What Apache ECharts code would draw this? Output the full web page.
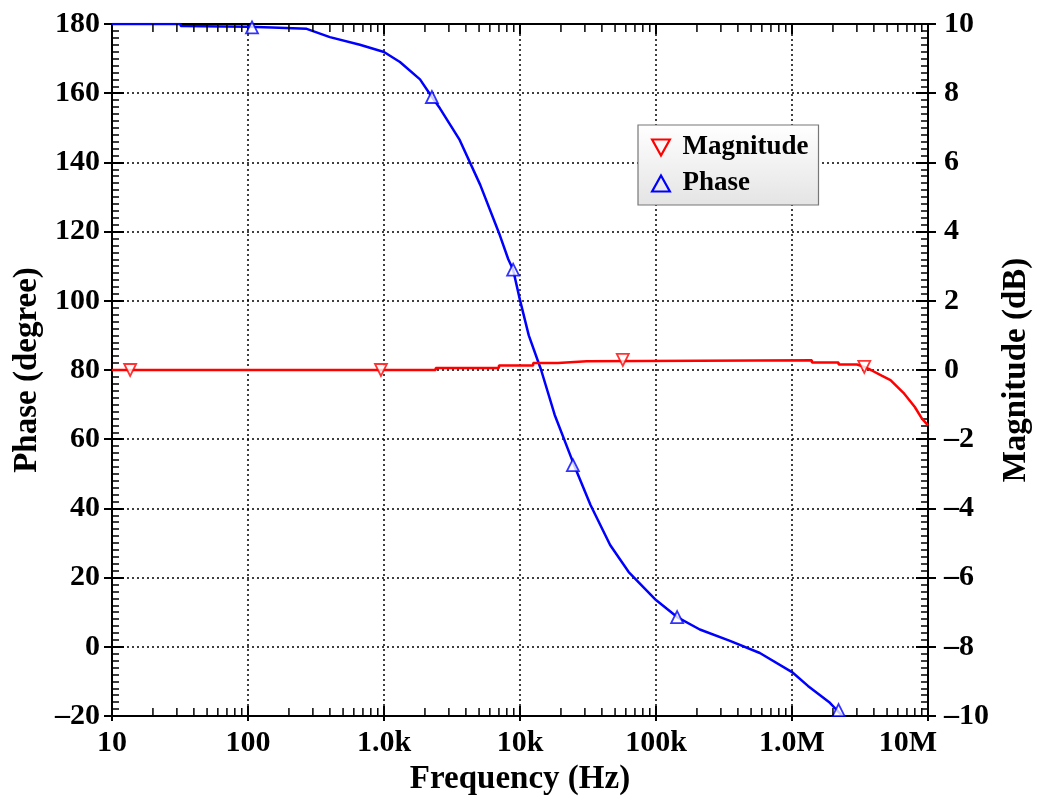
<!DOCTYPE html>
<html>
<head>
<meta charset="utf-8">
<script src="https://cdn.jsdelivr.net/npm/echarts@6/dist/echarts.min.js"></script>
<style>
html,body{margin:0;padding:0;background:#fff;}
#chart{width:1042px;height:804px;}
</style>
</head>
<body>
<div id="chart"></div>
<script>
// ---- data ----
const freqTickLabels = {10:'10',100:'100',1000:'1.0k',10000:'10k',100000:'100k',1000000:'1.0M',10000000:'10M'};

const phaseFreq = [10, 32, 32, 100, 150, 150, 270, 270, 400, 665, 1000, 1310, 1840, 2250, 2570, 3600, 5100, 7100, 8200, 8900, 10000, 11600, 14300, 18000, 25000, 33000, 46000, 63000, 100000, 143000, 210000, 350000, 580000, 1000000, 1310000, 1900000, 2350000];
const phaseDeg  = [180, 180, 179.4, 179.2, 179, 178.8, 178.6, 178.2, 176.2, 174, 171.9, 169, 164, 158.9, 155.7, 146.5, 133.5, 119, 112, 109, 100.2, 90, 80, 67, 52.5, 41, 29.4, 21.6, 13.5, 8.6, 5, 1.7, -1.8, -7.3, -11.3, -16.2, -20];

const magFreq = [10, 2400, 2400, 7000, 7000, 12500, 12500, 19000, 19000, 31000, 31000, 1400000, 1400000, 2200000, 2200000, 3000000, 3400000, 3800000, 4600000, 5300000, 6600000, 8000000, 9000000, 10000000];
const magDb   = [0, 0, 0.06, 0.06, 0.13, 0.13, 0.2, 0.2, 0.25, 0.25, 0.28, 0.28, 0.22, 0.22, 0.16, 0.16, 0.09, 0, -0.17, -0.29, -0.66, -1.07, -1.4, -1.6];

const magMarkFreq = [13.6, 950, 57000, 3400000];
const magMarkDb   = [0, 0, 0.29, 0.09];
const phaseMarkFreq = [107, 2250, 8900, 24500, 143000, 2200000];
const phaseMarkDeg  = [179, 158.9, 109, 52.5, 8.6, -18.3];

const phaseTicks = [-20, 0, 20, 40, 60, 80, 100, 120, 140, 160, 180];
const magTicks = [-10, -8, -6, -4, -2, 0, 2, 4, 6, 8, 10];

// minor log ticks (2..9 per decade)
const minorFreqs = [];
for (let d = 1; d < 7; d++) for (let m = 2; m <= 9; m++) minorFreqs.push(m * Math.pow(10, d));

const zip = (a, b) => a.map((v, i) => [v, b[i]]);
const FONT = 'Liberation Serif';
const dash = v => String(v).replace('-', '\u2013');

const chart = echarts.init(document.getElementById('chart'), null, {renderer: 'canvas'});
const axisLabelStyle = {fontFamily: FONT, fontWeight: 'bold', fontSize: 30, color: '#000'};
const nameStyle = {fontFamily: FONT, fontWeight: 'bold', fontSize: 33, color: '#000'};
const blackLine = {color: '#000', width: 2};

function ghostY(pos, min, max, interval) {
  return {
    type: 'value', min: min, max: max, interval: interval, position: pos,
    axisLine: {show: false, onZero: false},
    axisTick: {show: true, inside: false, length: 8, lineStyle: blackLine},
    axisLabel: {show: false}, splitLine: {show: false}
  };
}

chart.setOption({
  animation: false,
  backgroundColor: '#fff',
  grid: {left: 112, right: 114, top: 24, bottom: 88, containLabel: false},
  legend: {
    orient: 'vertical',
    left: 638, top: 125,
    padding: [9, 10, 8, 13],
    itemGap: 9,
    itemWidth: 19, itemHeight: 16,
    backgroundColor: {type: 'linear', x: 0, y: 0, x2: 0, y2: 1, colorStops: [{offset: 0, color: '#ffffff'}, {offset: 1, color: '#e4e4e4'}]},
    borderColor: '#777', borderWidth: 1.2, borderRadius: 0,
    textStyle: {fontFamily: FONT, fontWeight: 'bold', fontSize: 27, color: '#000', padding: [0, 0, 0, 7]},
    data: [
      {name: 'Magnitude', icon: 'path://M0,0 L20,0 L10,18 Z', itemStyle: {color: 'rgba(255,255,255,0)', borderColor: '#ff0000', borderWidth: 2.2}},
      {name: 'Phase', icon: 'path://M10,0 L20,18 L0,18 Z', itemStyle: {color: 'rgba(255,255,255,0)', borderColor: '#0000ff', borderWidth: 2.2}}
    ]
  },
  xAxis: [{
    type: 'log', logBase: 10, min: 10, max: 10000000,
    position: 'bottom',
    name: 'Frequency (Hz)', nameLocation: 'middle', nameGap: 47,
    nameTextStyle: nameStyle,
    axisLine: {show: true, onZero: false, lineStyle: blackLine},
    axisTick: {show: true, inside: true, length: 10, lineStyle: blackLine},
    axisLabel: Object.assign({
      margin: 12,
      formatter: v => {
        const s = freqTickLabels[Math.round(v)] || '';
        return Math.round(v) === 10000000 ? '{r|' + s + '}' : s;
      },
      rich: {r: {fontFamily: FONT, fontWeight: 'bold', fontSize: 30, color: '#000', padding: [0, 40, 0, 0]}}
    }, axisLabelStyle),
    splitLine: {show: true, lineStyle: {color: '#000', type: [2, 3], width: 1.5}}
  }, {
    type: 'log', logBase: 10, min: 10, max: 10000000,
    position: 'top',
    axisLine: {show: true, onZero: false, lineStyle: blackLine},
    axisTick: {show: true, inside: true, length: 10, lineStyle: blackLine},
    axisLabel: {show: false},
    splitLine: {show: false}
  }, {
    type: 'log', logBase: 10, min: 10, max: 10000000,
    position: 'bottom',
    axisLine: {show: false, onZero: false},
    axisTick: {show: true, inside: false, length: 5, lineStyle: blackLine},
    axisLabel: {show: false},
    splitLine: {show: false}
  }],
  yAxis: [{
    type: 'value', min: -20, max: 180, interval: 20,
    position: 'left',
    name: 'Phase (degree)', nameLocation: 'middle', nameGap: 67, nameRotate: 90,
    nameTextStyle: nameStyle,
    axisLine: {show: true, onZero: false, lineStyle: blackLine},
    axisTick: {show: true, inside: true, length: 12, lineStyle: blackLine},
    minorTick: {show: true, splitNumber: 10, length: 7, lineStyle: {color: '#000', width: 1.5}},
    axisLabel: Object.assign({margin: 12, formatter: v => phaseTicks.includes(v) ? dash(v) : ''}, axisLabelStyle),
    splitLine: {show: true, lineStyle: {color: '#000', type: [2, 3], width: 1.5}}
  }, {
    type: 'value', min: -10, max: 10, interval: 2,
    position: 'right',
    name: 'Magnitude (dB)', nameLocation: 'middle', nameGap: 65, nameRotate: 90,
    nameTextStyle: nameStyle,
    axisLine: {show: true, onZero: false, lineStyle: blackLine},
    axisTick: {show: true, inside: true, length: 12, lineStyle: blackLine},
    minorTick: {show: true, splitNumber: 10, length: 7, lineStyle: {color: '#000', width: 1.5}},
    axisLabel: Object.assign({margin: 16, formatter: v => magTicks.includes(v) ? dash(v) : ''}, axisLabelStyle),
    splitLine: {show: false}
  },
  ghostY('left', -20, 180, 20),
  ghostY('right', -10, 10, 2)
  ],
  series: [
    {
      name: 'minorTicks', type: 'custom', xAxisIndex: 0, yAxisIndex: 0, silent: true, z: 5, clip: false,
      data: minorFreqs.map(f => [f]),
      renderItem: function (params, api) {
        const b = api.coord([api.value(0), -20]);
        const t = api.coord([api.value(0), 180]);
        return {type: 'group', children: [
          {type: 'line', shape: {x1: b[0], y1: b[1], x2: b[0], y2: b[1] - 8}, style: {stroke: '#000', lineWidth: 1.5}},
          {type: 'line', shape: {x1: t[0], y1: t[1], x2: t[0], y2: t[1] + 8}, style: {stroke: '#000', lineWidth: 1.5}}
        ]};
      }
    },
    {
      name: 'Phase', type: 'line', xAxisIndex: 0, yAxisIndex: 0,
      data: zip(phaseFreq, phaseDeg), showSymbol: false, symbol: 'none',
      lineStyle: {color: '#0000ff', width: 2.5}, itemStyle: {color: '#0000ff'}, z: 3
    },
    {
      name: 'Magnitude', type: 'line', xAxisIndex: 0, yAxisIndex: 1,
      data: zip(magFreq, magDb), showSymbol: false, symbol: 'none',
      lineStyle: {color: '#ff0000', width: 2.5}, itemStyle: {color: '#ff0000'}, z: 3
    },
    {
      name: 'phaseMarks', type: 'scatter', xAxisIndex: 0, yAxisIndex: 0,
      data: zip(phaseMarkFreq, phaseMarkDeg), symbol: 'triangle', symbolSize: [12, 12],
      itemStyle: {color: '#fff', borderColor: '#0000ff', borderWidth: 1.8}, z: 4, silent: true
    },
    {
      name: 'magMarks', type: 'scatter', xAxisIndex: 0, yAxisIndex: 1,
      data: zip(magMarkFreq, magMarkDb), symbol: 'triangle', symbolRotate: 180, symbolSize: [12, 12],
      itemStyle: {color: '#fff', borderColor: '#ff0000', borderWidth: 1.8}, z: 4, silent: true
    }
  ]
});
</script>
</body>
</html>
